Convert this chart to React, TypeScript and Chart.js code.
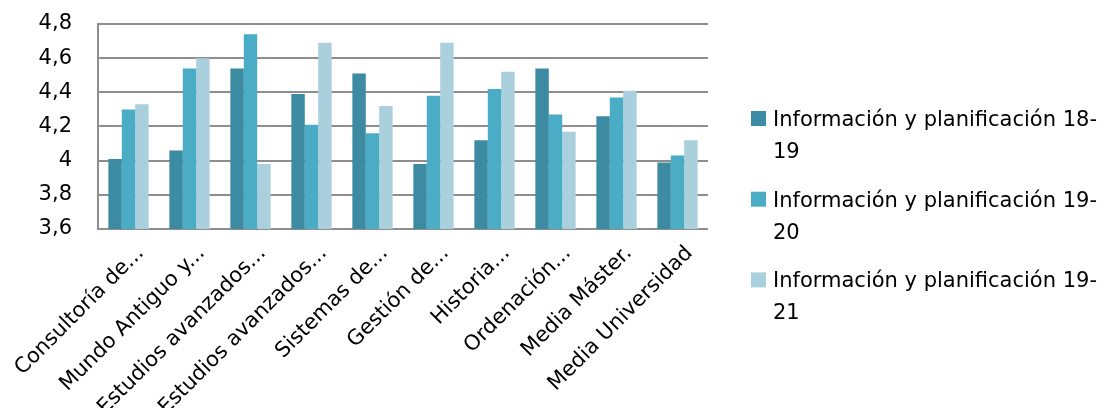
import React, { useEffect, useRef } from "react";
import { Chart, registerables } from "chart.js";

Chart.register(...registerables);

const categories = [
  "Consultoría de...",
  "Mundo Antiguo y...",
  "Estudios avanzados...",
  "Estudios avanzados...",
  "Sistemas de...",
  "Gestión de...",
  "Historia...",
  "Ordenación...",
  "Media Máster.",
  "Media Universidad",
];

const seriesNames = [
  "Información y planificación 18-19",
  "Información y planificación 19-20",
  "Información y planificación 19-21",
];

const legendLines = [
  ["Información y planificación 18-", "19"],
  ["Información y planificación 19-", "20"],
  ["Información y planificación 19-", "21"],
];

const values1819 = [4.01, 4.06, 4.54, 4.39, 4.51, 3.98, 4.12, 4.54, 4.26, 3.99];
const values1920 = [4.3, 4.54, 4.74, 4.21, 4.16, 4.38, 4.42, 4.27, 4.37, 4.03];
const values1921 = [4.33, 4.6, 3.98, 4.69, 4.32, 4.69, 4.52, 4.17, 4.41, 4.12];

const yMin = 3.6;
const yMax = 4.8;
const yStep = 0.2;

const colors = ["#3C8BA2", "#4BACC6", "#AACFDD"];
const FONT = "'DejaVu Sans', 'Open Sans', sans-serif";
const FONT_SIZE = 21;

const legendPlugin = {
  id: "customLegend",
  afterDraw(chart: any) {
    const ctx = chart.ctx;
    const x0 = chart.chartArea.right + 43;
    ctx.save();
    ctx.font = `${FONT_SIZE}px ${FONT}`;
    ctx.textBaseline = "alphabetic";
    ctx.textAlign = "left";
    legendLines.forEach((lines, i) => {
      const top = 111 + i * 80.7;
      ctx.fillStyle = colors[i];
      ctx.fillRect(x0, top, 15, 15);
      ctx.fillStyle = "#000";
      lines.forEach((ln, j) => {
        ctx.fillText(ln, x0 + 22, top + 15 + j * 32);
      });
    });
    ctx.restore();
  },
};

export default function App() {
  const ref = useRef<HTMLCanvasElement | null>(null);
  useEffect(() => {
    document.body.style.margin = "0";
    const canvas = ref.current;
    if (!canvas) return;
    const chart = new Chart(canvas, {
      type: "bar",
      data: {
        labels: categories,
        datasets: [values1819, values1920, values1921].map((d, i) => ({
          label: seriesNames[i],
          data: d,
          backgroundColor: colors[i],
          borderWidth: 0,
          barPercentage: 1,
          categoryPercentage: 0.66,
        })),
      },
      options: {
        animation: false,
        responsive: false,
        layout: { padding: { top: 24, right: 402, left: 0, bottom: 0 } },
        plugins: { legend: { display: false }, tooltip: { enabled: false } },
        scales: {
          x: {
            grid: { display: false },
            border: { display: false },
            ticks: {
              color: "#000",
              font: { family: FONT, size: FONT_SIZE },
              minRotation: 45,
              maxRotation: 45,
              autoSkip: false,
              padding: 4,
              labelOffset: 12,
            },
            afterFit: (s: any) => {
              s.height = 179;
              s.paddingLeft = 0;
              s.paddingRight = 0;
            },
          },
          y: {
            min: yMin,
            max: yMax,
            grid: {
              color: "#8E8E8E",
              lineWidth: 2,
              drawTicks: true,
              tickLength: 22,
              tickColor: "rgba(0,0,0,0)",
            },
            border: { display: true, color: "#8E8E8E", width: 2 },
            ticks: {
              stepSize: yStep,
              color: "#000",
              font: { family: FONT, size: FONT_SIZE },
              padding: 4,
              callback: (v: any) => String(Math.round(Number(v) * 10) / 10).replace(".", ","),
            },
            afterFit: (s: any) => {
              s.width = 98;
            },
          },
        },
      },
      plugins: [legendPlugin],
    });
    return () => chart.destroy();
  }, []);
  return (
    <div style={{ width: 1110, height: 408, position: "relative" }}>
      <canvas ref={ref} width={1110} height={408} style={{ display: "block" }} />
    </div>
  );
}
